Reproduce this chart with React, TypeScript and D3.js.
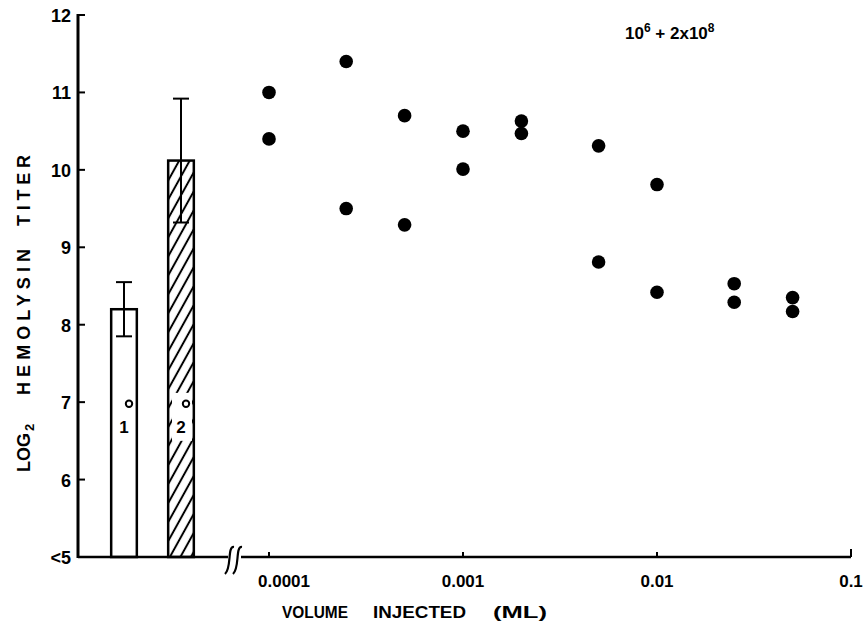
import { useEffect, useRef } from 'react';
import * as d3 from 'd3';

// scatter: volume injected (ml) vs log2 titer, two animals per dose
const volumes = [0.0001, 0.00025, 0.0005, 0.001, 0.002, 0.005, 0.01, 0.025, 0.05];
const titerHigh = [11.0, 11.4, 10.7, 10.5, 10.63, 10.31, 9.81, 8.53, 8.35];
const titerLow = [10.4, 9.5, 9.29, 10.01, 10.47, 8.81, 8.42, 8.29, 8.17];

// primary / secondary response bars
const barLabels = ['1', '2'];
const barMeans = [8.2, 10.12];
const barErrors = [0.35, 0.8];

const yTicks = [5, 6, 7, 8, 9, 10, 11, 12];
const yTickLabels = ['<5', '6', '7', '8', '9', '10', '11', '12'];
const xTicks = [0.0001, 0.001, 0.01, 0.1];
const xTickLabels = ['0.0001', '0.001', '0.01', '0.1'];

const App = () => {
  const svgRef = useRef<SVGSVGElement>(null);

  useEffect(() => {
    const width = 868;
    const height = 633;
    const font = '"Liberation Sans", Arial, sans-serif';

    const svg = d3.select(svgRef.current)
      .attr('width', width)
      .attr('height', height);
    svg.selectAll('*').remove();

    const y = d3.scaleLinear().domain([5, 12]).range([557, 15]);
    const x = d3.scaleLog().domain([0.0001, 0.1]).range([269, 851]);
    const band = d3.scaleBand()
      .domain(barLabels)
      .range([80, 225])
      .paddingInner(0.55)
      .paddingOuter(0.547);

    const defs = svg.append('defs');
    const pat = defs.append('pattern')
      .attr('id', 'hatch')
      .attr('patternUnits', 'userSpaceOnUse')
      .attr('width', 10)
      .attr('height', 9.2)
      .attr('patternTransform', 'rotate(-61)');
    pat.append('rect').attr('width', 10).attr('height', 9.2).attr('fill', '#fff');
    pat.append('line')
      .attr('x1', -1).attr('x2', 11)
      .attr('y1', 4.6).attr('y2', 4.6)
      .attr('stroke', '#000')
      .attr('stroke-width', 2);

    svg.append('rect').attr('width', width).attr('height', height).attr('fill', '#fff');

    // bars
    svg.append('g')
      .selectAll('rect')
      .data(barLabels)
      .join('rect')
      .attr('x', d => band(d))
      .attr('y', (d, i) => y(barMeans[i]))
      .attr('width', band.bandwidth())
      .attr('height', (d, i) => y(5) - y(barMeans[i]))
      .attr('fill', (d, i) => (i === 0 ? '#fff' : 'url(#hatch)'))
      .attr('stroke', '#000')
      .attr('stroke-width', 2.5);

    // error bars
    const err = svg.append('g').attr('stroke', '#000').attr('stroke-width', 2);
    barLabels.forEach((d, i) => {
      const cx = band(d) + band.bandwidth() / 2;
      const top = y(barMeans[i] + barErrors[i]);
      const bot = y(barMeans[i] - barErrors[i]);
      err.append('line').attr('x1', cx).attr('x2', cx).attr('y1', top).attr('y2', bot);
      err.append('line').attr('x1', cx - 8).attr('x2', cx + 8).attr('y1', top).attr('y2', top);
      err.append('line').attr('x1', cx - 8).attr('x2', cx + 8).attr('y1', bot).attr('y2', bot);
    });

    // bar labels 1° 2°
    const bl = svg.append('g')
      .attr('font-family', font)
      .attr('font-weight', 'bold')
      .attr('font-size', 17)
      .attr('text-anchor', 'middle');
    barLabels.forEach((d, i) => {
      const cx = band(d) + band.bandwidth() / 2;
      if (i === 1) {
        bl.append('rect')
          .attr('x', cx - 9).attr('y', y(7.12))
          .attr('width', 20).attr('height', y(6.5) - y(7.12))
          .attr('fill', '#fff');
      }
      bl.append('text')
        .attr('x', cx)
        .attr('y', y(6.6))
        .text(d);
      bl.append('circle')
        .attr('cx', cx + 5)
        .attr('cy', y(6.98))
        .attr('r', 3.2)
        .attr('fill', 'none')
        .attr('stroke', '#000')
        .attr('stroke-width', 2);
    });

    // axes
    const axis = svg.append('g').attr('stroke', '#000').attr('fill', 'none');
    axis.append('line')
      .attr('x1', 78).attr('x2', 78)
      .attr('y1', y(12) - 1).attr('y2', y(5) + 1)
      .attr('stroke-width', 3);
    axis.selectAll('.ytick')
      .data(yTicks.slice(1))
      .join('line')
      .attr('x1', 78).attr('x2', 85)
      .attr('y1', d => y(d)).attr('y2', d => y(d))
      .attr('stroke-width', 2);
    axis.append('line')
      .attr('x1', 78).attr('x2', 228)
      .attr('y1', y(5)).attr('y2', y(5))
      .attr('stroke-width', 2.5);
    axis.append('line')
      .attr('x1', 241).attr('x2', x(0.1))
      .attr('y1', y(5)).attr('y2', y(5))
      .attr('stroke-width', 2.5);
    axis.selectAll('.xtick')
      .data(xTicks)
      .join('line')
      .attr('x1', d => x(d)).attr('x2', d => x(d))
      .attr('y1', y(5)).attr('y2', d => y(5) - (d === 0.1 ? 8 : 5))
      .attr('stroke-width', 2);

    // axis break
    [229, 237].forEach(bx => {
      axis.append('path')
        .attr('d', `M${bx + 5},547 C${bx - 2},546 ${bx + 3},568 ${bx - 4},574`)
        .attr('stroke-width', 2.2);
    });

    // tick labels
    svg.append('g')
      .attr('font-family', font)
      .attr('font-weight', 'bold')
      .attr('font-size', 18)
      .attr('text-anchor', 'end')
      .selectAll('text')
      .data(yTicks)
      .join('text')
      .attr('x', 71)
      .attr('y', d => y(d) + 7)
      .text((d, i) => yTickLabels[i]);

    svg.append('g')
      .attr('font-family', font)
      .attr('font-weight', 'bold')
      .attr('font-size', 17)
      .selectAll('text')
      .data(xTicks)
      .join('text')
      .attr('x', (d, i) => (i === 0 ? x(d) - 11 : x(d)))
      .attr('text-anchor', (d, i) => (i === 0 ? 'start' : 'middle'))
      .attr('y', 587)
      .text((d, i) => xTickLabels[i]);

    // points
    const pts = svg.append('g').attr('fill', '#000');
    [titerHigh, titerLow].forEach(series => {
      pts.selectAll(null)
        .data(series)
        .join('circle')
        .attr('cx', (d, i) => x(volumes[i]))
        .attr('cy', d => y(d))
        .attr('r', 6.8);
    });

    // axis titles, word by word (hand lettered, wide spacing)
    const xt = svg.append('g')
      .attr('font-family', font)
      .attr('font-weight', 'bold')
      .attr('font-size', 17);
    [['VOLUME', 282, 66], ['INJECTED', 373, 93], ['(ML)', 493, 54]].forEach(([w, x0, len]) => {
      xt.append('text')
        .attr('x', x0)
        .attr('y', 618)
        .attr('textLength', len)
        .attr('lengthAdjust', 'spacingAndGlyphs')
        .text(w as string);
    });

    const yt = svg.append('g')
      .attr('font-family', font)
      .attr('font-weight', 'bold')
      .attr('font-size', 18);
    const logT = yt.append('text')
      .attr('transform', 'translate(30,472) rotate(-90)');
    logT.append('tspan').text('LOG');
    logT.append('tspan').attr('dy', 4).attr('dx', 2).attr('font-size', 13).text('2');
    yt.append('text')
      .attr('transform', 'translate(30,395) rotate(-90)')
      .attr('textLength', 146)
      .attr('lengthAdjust', 'spacing')
      .text('HEMOLYSIN');
    yt.append('text')
      .attr('transform', 'translate(30,226) rotate(-90)')
      .attr('textLength', 71)
      .attr('lengthAdjust', 'spacing')
      .text('TITER');

    // dose annotation
    const ann = svg.append('text')
      .attr('x', 625)
      .attr('y', 39)
      .attr('font-family', font)
      .attr('font-weight', 'bold')
      .attr('font-size', 17)
      .style('white-space', 'pre');
    ann.append('tspan').text('10');
    ann.append('tspan').attr('dy', -7).attr('font-size', 12).text('6');
    ann.append('tspan').attr('dy', 7).text(' + 2x10');
    ann.append('tspan').attr('dy', -7).attr('font-size', 12).text('8');
  }, []);

  return (
    <svg ref={svgRef} style={{ position: 'absolute', left: 0, top: 0 }}></svg>
  );
};

export default App;
